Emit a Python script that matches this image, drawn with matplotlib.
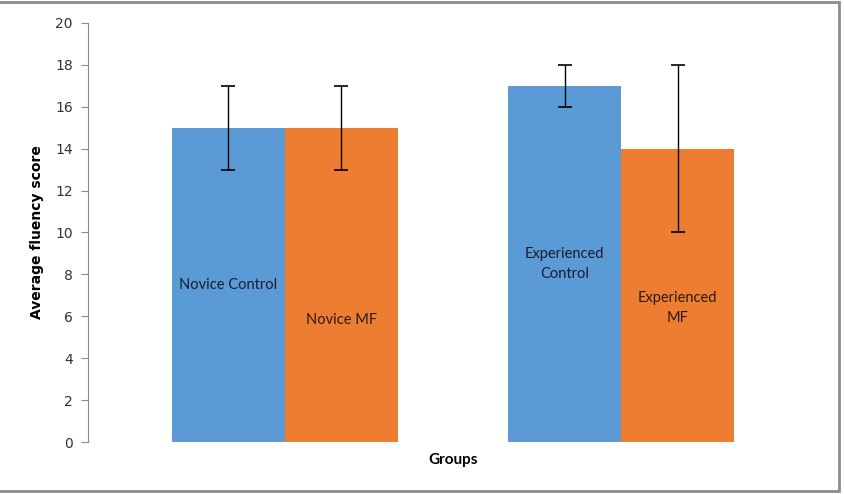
import matplotlib.pyplot as plt
from matplotlib.patches import Rectangle

# data
groups = ["Novice", "Experienced"]
control_means = [15, 17]
control_err = [2, 1]
mf_means = [15, 14]
mf_err = [2, 4]
control_labels = ["Novice Control", "Experienced\nControl"]
mf_labels = ["Novice MF", "Experienced\nMF"]
control_label_y = [7.5, 8.5]
mf_label_y = [5.8, 6.4]

blue = "#5B9BD5"
orange = "#ED7D31"

fig = plt.figure(figsize=(8.45, 4.94), dpi=100)
ax = fig.add_axes([88 / 845, 1 - 442 / 494, 730 / 845, 419 / 494])

w = 0.336
x = list(range(len(groups)))
xc = [i - w / 2 for i in x]
xm = [i + w / 2 for i in x]

ax.bar(xc, control_means, width=w, color=blue, zorder=2)
ax.bar(xm, mf_means, width=w, color=orange, zorder=2)
ax.errorbar(xc, control_means, yerr=control_err, fmt="none", ecolor="black",
            elinewidth=1, capsize=5, capthick=1.2, zorder=3)
ax.errorbar(xm, mf_means, yerr=mf_err, fmt="none", ecolor="black",
            elinewidth=1, capsize=5, capthick=1.2, zorder=3)

for xi, lab, ly in zip(xc, control_labels, control_label_y):
    ax.text(xi, ly, lab, ha="center", va="center", fontsize=10.5,
            family="Lato", color="#1a1a2e", zorder=4, linespacing=1.5)
for xi, lab, ly in zip(xm, mf_labels, mf_label_y):
    ax.text(xi, ly, lab, ha="center", va="center", fontsize=10.5,
            family="Lato", color="#2a1a10", zorder=4, linespacing=1.5)

ax.set_xlim(-0.586, 1.586)
ax.set_ylim(0, 20)
ax.set_yticks(range(0, 21, 2))
ax.set_xticks([])

ax.spines["top"].set_visible(False)
ax.spines["right"].set_visible(False)
ax.spines["bottom"].set_visible(False)
ax.spines["left"].set_color("#8c8c8c")
ax.tick_params(axis="y", colors="#8c8c8c", labelcolor="#333333",
               length=5, labelsize=10, pad=6)

ax.set_ylabel("Average fluency score", fontsize=10, fontweight="bold",
              labelpad=8)
ax.set_xlabel("Groups", fontsize=11, fontweight="bold", labelpad=8,
              family="Lato")

# gray frame around the chart (no left edge visible in the reference)
fig.patches.append(Rectangle((-0.01, 3 / 494), 0.01 + 839 / 845, 489 / 494,
                             transform=fig.transFigure, fill=False,
                             edgecolor="#8c8c8c", linewidth=2))

fig.savefig("out.png", dpi=100)
